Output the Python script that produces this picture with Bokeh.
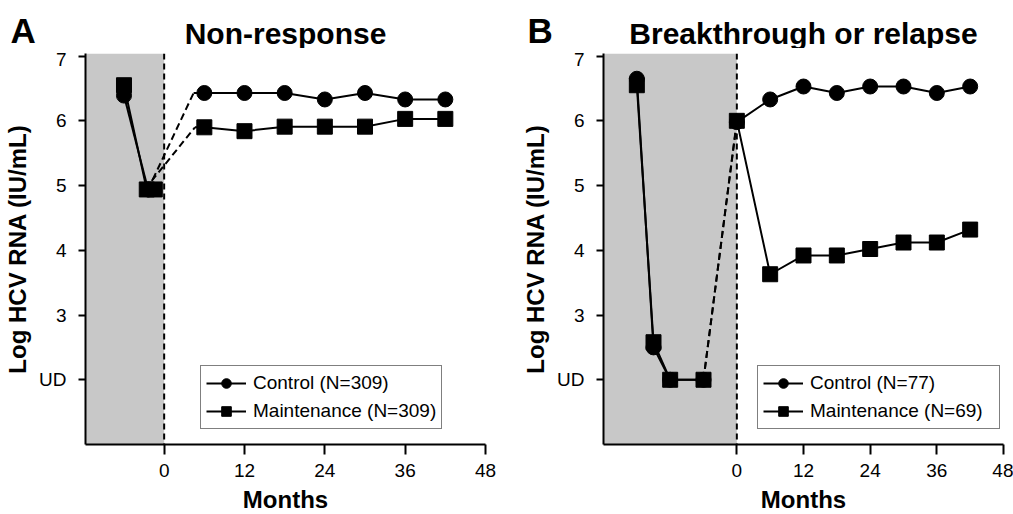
from bokeh.plotting import figure
from bokeh.layouts import row, column
from bokeh.models import Range1d, FixedTicker, BoxAnnotation, Span, Legend, LegendItem, Label
from bokeh.embed import file_html
from bokeh.resources import INLINE

FONT = "Liberation Sans"

# ---------------- data ----------------
month_ticks = [0, 12, 24, 36, 48]
y_ticks = [2, 3, 4, 5, 6, 7]
y_tick_labels = ["UD", "3", "4", "5", "6", "7"]
y_limits = [1, 7.04]

# Panel A: Non-response
a_letter = "A"
a_title = "Non-response"
a_shade = [-11.75, 0]
a_ctrl_label = "Control (N=309)"
a_maint_label = "Maintenance (N=309)"
a_ctrl_pre_x = [-6, -2.4]
a_ctrl_pre_y = [6.39, 4.94]
a_maint_pre_x = [-6, -2.6, -1.4]
a_maint_pre_y = [6.55, 4.94, 4.94]
a_ctrl_bridge_x = [-2.4, 4.4]
a_ctrl_bridge_y = [4.94, 6.43]
a_maint_bridge_x = [-2.9, 4.6]
a_maint_bridge_y = [4.94, 5.90]
a_post_x = [6, 12, 18, 24, 30, 36, 42]
a_ctrl_post_y = [6.43, 6.43, 6.43, 6.33, 6.43, 6.33, 6.33]
a_maint_post_y = [5.90, 5.84, 5.91, 5.91, 5.91, 6.03, 6.03]

# Panel B: Breakthrough or relapse
b_letter = "B"
b_title = "Breakthrough or relapse"
b_shade = [-24, 0]
b_ctrl_label = "Control (N=77)"
b_maint_label = "Maintenance (N=69)"
b_ctrl_pre_x = [-18, -15, -12, -6]
b_ctrl_pre_y = [6.65, 2.50, 2.00, 2.00]
b_maint_pre_x = [-18, -15, -12, -6]
b_maint_pre_y = [6.55, 2.58, 2.00, 2.00]
b_ctrl_bridge_x = [-6, 0]
b_ctrl_bridge_y = [2.00, 5.98]
b_maint_bridge_x = [-6, 0]
b_maint_bridge_y = [2.00, 6.00]
b_post_x = [0, 6, 12, 18, 24, 30, 36, 42]
b_ctrl_post_y = [5.98, 6.33, 6.53, 6.43, 6.53, 6.53, 6.43, 6.53]
b_maint_post_y = [6.00, 3.63, 3.92, 3.92, 4.02, 4.12, 4.12, 4.32]

FRAME_W, FRAME_H = 400, 391
HEADER_H = 48


def make_header(letter, title, border_left, border_right, letter_x):
    w = border_left + FRAME_W + border_right
    h = figure(width=w, height=HEADER_H, title=None,
               x_range=Range1d(0, w), y_range=Range1d(0, HEADER_H),
               x_axis_location=None, y_axis_location=None,
               output_backend="svg", toolbar_location=None, min_border=0)
    h.outline_line_color = None
    h.xgrid.visible = False
    h.ygrid.visible = False
    h.add_layout(Label(x=letter_x, y=HEADER_H - 29.5, text=letter, text_font=FONT,
                       text_font_size="35px", text_font_style="bold",
                       text_color="black", text_baseline="middle"))
    h.add_layout(Label(x=border_left + FRAME_W / 2, y=HEADER_H - 32.5, text=title,
                       text_font=FONT, text_font_size="30px", text_font_style="bold",
                       text_color="black", text_align="center",
                       text_baseline="middle"))
    return h


def make_panel(shade, ctrl_label, maint_label,
               cpx, cpy, mpx, mpy, cbx, cby, mbx, mby, post_x, cpost, mpost,
               border_left, border_right, legend_x, legend_label_w):
    p = figure(frame_width=FRAME_W, frame_height=FRAME_H, title=None,
               x_range=Range1d(shade[0], 48), y_range=Range1d(*y_limits),
               output_backend="svg", toolbar_location=None,
               min_border_left=border_left, min_border_right=border_right,
               min_border_top=5, min_border_bottom=70)
    p.xgrid.visible = False
    p.ygrid.visible = False
    p.outline_line_color = None
    p.background_fill_color = "white"
    p.border_fill_color = "white"

    p.add_layout(BoxAnnotation(left=shade[0], right=shade[1], fill_color="#c8c8c8",
                               fill_alpha=1, line_color=None, level="underlay"))
    p.add_layout(Span(location=shade[1], dimension="height", line_color="black",
                      line_width=2, line_dash="6 4"))

    for ax in (p.xaxis[0], p.yaxis[0]):
        ax.axis_line_width = 2
        ax.axis_line_color = "black"
        ax.major_tick_line_width = 2
        ax.major_tick_line_color = "black"
        ax.major_tick_in = 0
        ax.minor_tick_in = 0
        ax.minor_tick_out = 0
        ax.major_label_text_font = FONT
        ax.major_label_text_font_size = "19px"
        ax.major_label_text_color = "black"
        ax.axis_label_text_font = FONT
        ax.axis_label_text_font_size = "24px"
        ax.axis_label_text_font_style = "bold"
        ax.axis_label_text_color = "black"
    p.xaxis.ticker = FixedTicker(ticks=month_ticks, minor_ticks=[])
    p.yaxis.ticker = FixedTicker(ticks=y_ticks, minor_ticks=[])
    p.yaxis.major_label_overrides = {t: l for t, l in zip(y_ticks, y_tick_labels)}
    p.xaxis.axis_label = "Months"
    p.yaxis.axis_label = "Log HCV RNA (IU/mL)"
    p.xaxis.major_tick_out = 10
    p.yaxis.major_tick_out = 7
    p.xaxis.major_label_standoff = 9
    p.yaxis.major_label_standoff = 12
    p.yaxis.axis_label_standoff = 5
    p.xaxis.axis_label_standoff = 6

    lw = 2
    p.line(cpx, cpy, line_color="black", line_width=lw)
    p.line(mpx, mpy, line_color="black", line_width=lw)
    p.line(cbx, cby, line_color="black", line_width=lw, line_dash="7 4")
    p.line(mbx, mby, line_color="black", line_width=lw, line_dash="7 4")
    cl = p.line(cbx[-1:] + post_x, cby[-1:] + cpost, line_color="black", line_width=lw)
    ml = p.line(mbx[-1:] + post_x, mby[-1:] + mpost, line_color="black", line_width=lw)
    p.scatter(cpx, cpy, marker="circle", size=15, color="black")
    cs = p.scatter(post_x, cpost, marker="circle", size=15, color="black")
    p.scatter(mpx, mpy, marker="square", size=15, color="black")
    ms = p.scatter(post_x, mpost, marker="square", size=15, color="black")

    legend = Legend(items=[LegendItem(label=ctrl_label, renderers=[cl, cs]),
                           LegendItem(label=maint_label, renderers=[ml, ms])],
                    location=(legend_x, 15),
                    border_line_color="black", border_line_width=1.5,
                    background_fill_color="white", background_fill_alpha=1,
                    label_text_font=FONT, label_text_font_size="19px",
                    label_text_color="black", label_width=legend_label_w,
                    glyph_width=40, glyph_height=24, label_height=24,
                    label_standoff=7, padding=5, spacing=4, margin=0)
    p.add_layout(legend)
    return p


A_LEFT, A_RIGHT = 85, 20
B_LEFT, B_RIGHT = 98, 10

ha = make_header(a_letter, a_title, A_LEFT, A_RIGHT, 10)
hb = make_header(b_letter, b_title, B_LEFT, B_RIGHT, 22)

pa = make_panel(a_shade, a_ctrl_label, a_maint_label,
                a_ctrl_pre_x, a_ctrl_pre_y, a_maint_pre_x, a_maint_pre_y,
                a_ctrl_bridge_x, a_ctrl_bridge_y, a_maint_bridge_x, a_maint_bridge_y,
                a_post_x, a_ctrl_post_y, a_maint_post_y, A_LEFT, A_RIGHT, 115, 183)
pb = make_panel(b_shade, b_ctrl_label, b_maint_label,
                b_ctrl_pre_x, b_ctrl_pre_y, b_maint_pre_x, b_maint_pre_y,
                b_ctrl_bridge_x, b_ctrl_bridge_y, b_maint_bridge_x, b_maint_bridge_y,
                b_post_x, b_ctrl_post_y, b_maint_post_y, B_LEFT, B_RIGHT, 154, 184)

layout = column(row(ha, hb), row(pa, pb))
open("out.html", "w").write(file_html(layout, INLINE))
